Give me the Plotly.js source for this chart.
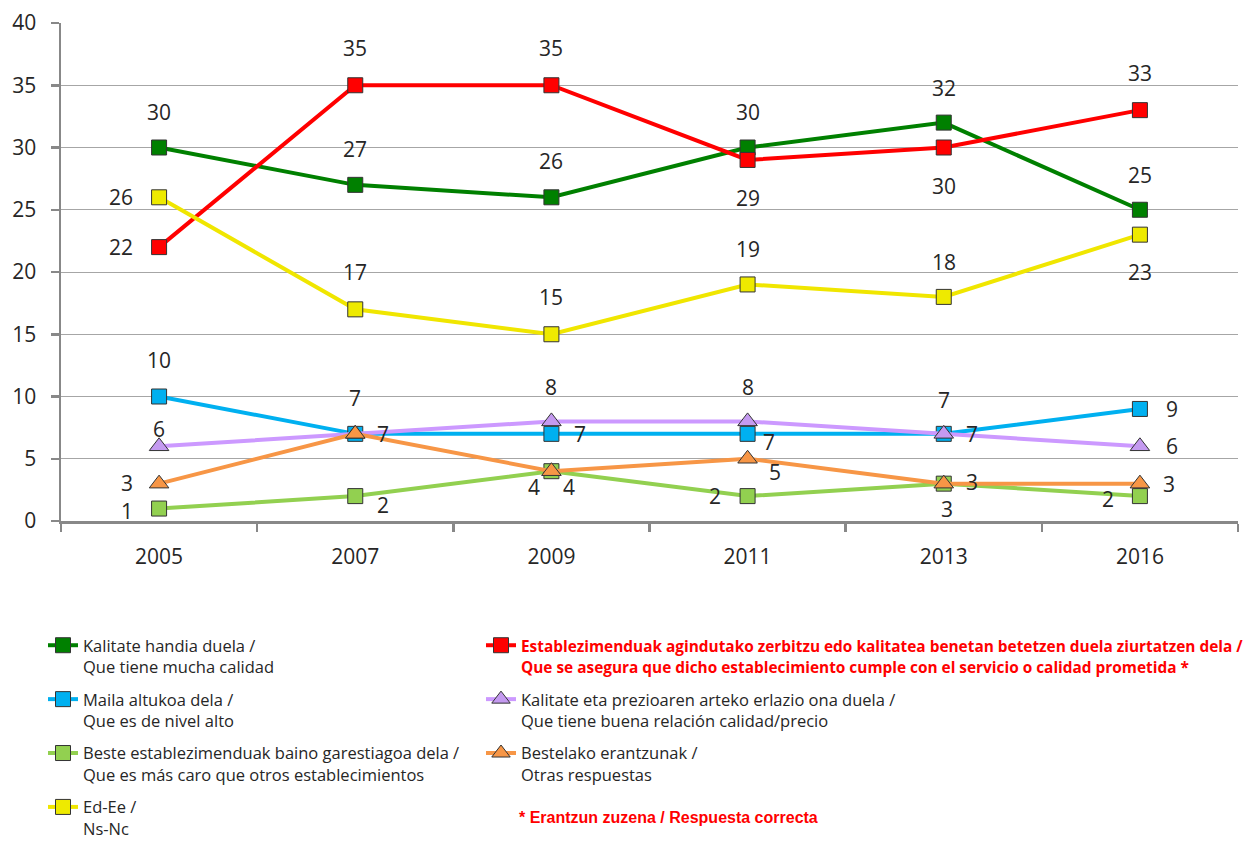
<!DOCTYPE html>
<html><head><meta charset="utf-8">
<script src="https://cdn.plot.ly/plotly-3.0.1.min.js"></script>
<style>html,body{margin:0;padding:0;background:#fff}</style>
</head><body><div id="chart" style="width:1259px;height:841px"></div>
<script>
// ---- data ----
const years = ['2005', '2007', '2009', '2011', '2013', '2016'];
const kalitateHandia = [30, 27, 26, 30, 32, 25];
const ziurtatzen = [22, 35, 35, 29, 30, 33];
const mailaAltua = [10, 7, 7, 7, 7, 9];
const prezioa = [6, 7, 8, 8, 7, 6];
const garestiagoa = [1, 2, 4, 2, 3, 2];
const bestelako = [3, 7, 4, 5, 3, 3];
const edEe = [26, 17, 15, 19, 18, 23];

const redSpan = s => '<span style="font-weight:bold;font-size:15.4px;color:#ff0000">' + s + '</span>';

const nameGreen = 'Kalitate handia duela /<br>Que tiene mucha calidad';
const nameRed = redSpan('Establezimenduak agindutako zerbitzu edo kalitatea benetan betetzen duela ziurtatzen dela /') + '<br>' +
                redSpan('Que se asegura que dicho establecimiento cumple con el servicio o calidad prometida *');
const nameBlue = 'Maila altukoa dela /<br>Que es de nivel alto';
const namePurple = 'Kalitate eta prezioaren arteko erlazio ona duela /<br>Que tiene buena relación calidad/precio';
const nameLight = 'Beste establezimenduak baino garestiagoa dela /<br>Que es más caro que otros establecimientos';
const nameOrange = 'Bestelako erantzunak /<br>Otras respuestas';
const nameYellow = 'Ed-Ee /<br>Ns-Nc';
const footnote = '* Erantzun zuzena / Respuesta correcta';

// ---- styling (label offsets in px: [dx, dy] on screen) ----
const series = [
  {name: nameGreen, y: kalitateHandia, line: '#008000', fill: '#008000', sym: 'square', leg: 'legend',
   off: [[0,-36],[0,-36],[0,-36],[0,-36],[0,-35],[0,-35]]},
  {name: nameRed, y: ziurtatzen, line: '#ff0000', fill: '#ff0000', sym: 'square', leg: 'legend2',
   off: [[-38,0],[0,-37],[0,-37],[0,38],[0,38],[0,-37]]},
  {name: nameBlue, y: mailaAltua, line: '#00b0f0', fill: '#00b0f0', sym: 'square', leg: 'legend',
   off: [[0,-37],[0,-36],[29,0],[21,8],[28,0],[32,0]]},
  {name: namePurple, y: prezioa, line: '#cc99ff', fill: '#c49af0', sym: 'triangle-up', leg: 'legend2',
   off: [[0,-17],[28,0],[0,-34],[0,-34],[0,-34],[32,0]]},
  {name: nameLight, y: garestiagoa, line: '#92d050', fill: '#92d050', sym: 'square', leg: 'legend',
   off: [[-32,2],[28,9],[-17,16],[-33,0],[3,25],[-32,3]]},
  {name: nameOrange, y: bestelako, line: '#f79646', fill: '#f79646', sym: 'triangle-up', leg: 'legend2',
   off: [[-32,-1],null,[18,16],[27,13],[28,-2],[29,0]]},
  {name: nameYellow, y: edEe, line: '#f0e600', fill: '#eeea00', sym: 'square', leg: 'legend',
   off: [[-38,0],[0,-37],[0,-37],[0,-35],[0,-35],[0,37]]}
];

const labelFont = {family: 'Open Sans, sans-serif', size: 21, color: '#262626'};

const traces = series.map((s, i) => ({
  type: 'scatter', mode: 'lines+markers', x: years, y: s.y, name: s.name,
  legend: s.leg, legendgroup: 'g' + i,
  line: {color: s.line, width: 4},
  marker: {symbol: s.sym, size: s.sym === 'square' ? 15 : 17, color: s.fill, line: {color: '#333333', width: 1}},
  hoverinfo: 'skip'
}));

const annotations = [];
series.forEach(s => {
  s.y.forEach((v, i) => {
    const o = s.off[i];
    if (!o) return;
    // category axis: position by category index of years[i]
    annotations.push({x: years.indexOf(years[i]), y: v, xref: 'x', yref: 'y', text: String(v), showarrow: false,
      xshift: o[0], yshift: -o[1], font: labelFont});
  });
});
annotations.push({xref: 'paper', yref: 'paper', x: (517 - 61) / 1177, y: (521 - 818) / 498,
  xanchor: 'left', yanchor: 'middle', showarrow: false, text: '<b>' + footnote + '</b>',
  font: {family: 'Liberation Sans, Arial, sans-serif', size: 16, color: '#ff0000'}});

const legendBase = {
  orientation: 'v', xref: 'paper', yref: 'paper', xanchor: 'left', yanchor: 'top',
  valign: 'top', tracegroupgap: 8, bgcolor: 'rgba(0,0,0,0)', borderwidth: 0,
  font: {family: 'Open Sans, sans-serif', size: 16.5, color: '#262626'}
};

const layout = {
  width: 1259, height: 841,
  margin: {l: 61, r: 21, t: 23, b: 320, autoexpand: false},
  paper_bgcolor: '#ffffff', plot_bgcolor: '#ffffff',
  showlegend: true,
  legend: Object.assign({}, legendBase, {x: (43 - 61) / 1177, y: (521 - 628) / 498}),
  legend2: Object.assign({}, legendBase, {x: (481 - 61) / 1177, y: (521 - 628) / 498}),
  xaxis: {
    type: 'category', categoryorder: 'array', categoryarray: years, range: [-0.5, years.length - 0.5],
    autorange: false, tickson: 'boundaries', ticks: 'outside', ticklen: 8, tickwidth: 2.5, tickcolor: '#888888',
    showline: true, linecolor: '#888888', linewidth: 2.5, showgrid: false, zeroline: false,
    tickfont: {family: 'Open Sans, sans-serif', size: 21, color: '#262626'}, ticklabelstandoff: 15
  },
  yaxis: {
    range: [0, 40], autorange: false, dtick: 5, tick0: 0, ticks: 'outside', ticklen: 8, tickwidth: 2.5, tickcolor: '#888888',
    showline: true, linecolor: '#888888', linewidth: 2.5, showgrid: true, gridcolor: '#a6a6a6', gridwidth: 1,
    zeroline: false, tickfont: {family: 'Open Sans, sans-serif', size: 21, color: '#262626'}, ticklabelstandoff: 10
  },
  annotations: annotations
};

Plotly.newPlot('chart', traces, layout, {staticPlot: true, displayModeBar: false});
</script>
</body></html>
